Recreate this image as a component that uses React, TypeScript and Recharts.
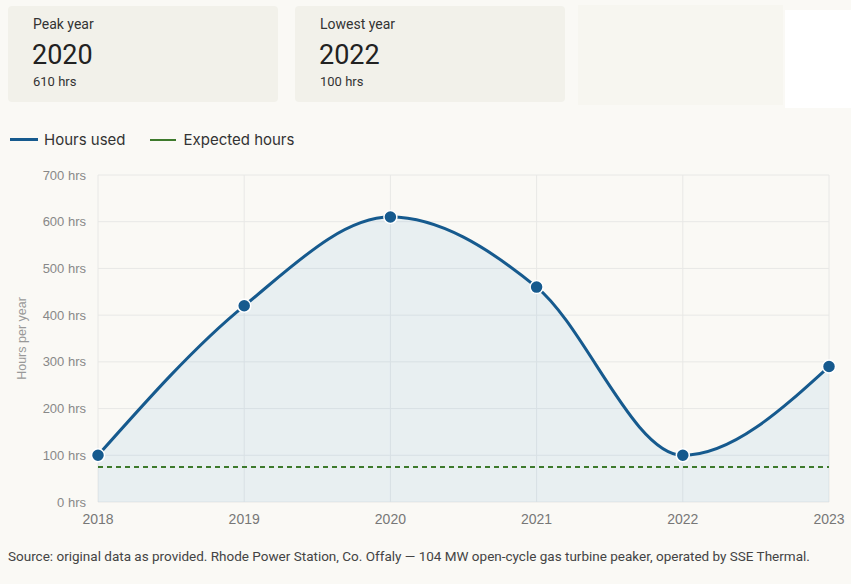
import { ComposedChart, XAxis, YAxis, CartesianGrid, Area, Line, ReferenceLine } from "recharts";

const years = ["2018", "2019", "2020", "2021", "2022", "2023"];
const hoursUsed = [100, 420, 610, 460, 100, 290];
const expectedHours = 75;
const yTicks = [0, 100, 200, 300, 400, 500, 600, 700];

const chartData = years.map((year, i) => ({ year, hours: hoursUsed[i] }));

const BLUE = "#165a8e";
const GREEN = "#3d7a2c";

function StatCard({ left, label, value, sub }: { left: number; label: string; value: string; sub: string }) {
  return (
    <div
      style={{
        position: "absolute",
        left,
        top: 6,
        width: 270,
        height: 96,
        background: "#f2f1ea",
        borderRadius: 4,
        fontFamily: "Roboto, sans-serif",
        color: "#222",
      }}
    >
      <div style={{ position: "absolute", left: 25, top: 10, fontSize: 14, color: "#333" }}>{label}</div>
      <div style={{ position: "absolute", left: 24, top: 33, fontSize: 27 }}>{value}</div>
      <div style={{ position: "absolute", left: 25, top: 68, fontSize: 13, color: "#333" }}>{sub}</div>
    </div>
  );
}

export default function App() {
  return (
    <div style={{ position: "absolute", left: 0, top: 0, width: 851, height: 584, background: "#faf9f5", overflow: "hidden" }}>
      <StatCard left={8} label="Peak year" value="2020" sub="610 hrs" />
      <StatCard left={295} label="Lowest year" value="2022" sub="100 hrs" />
      <div style={{ position: "absolute", left: 578, top: 5, width: 205, height: 100, background: "#f7f6f0" }} />
      <div style={{ position: "absolute", left: 785, top: 10, width: 66, height: 98, background: "#ffffff" }} />

      <div style={{ position: "absolute", left: 10, top: 130, display: "flex", alignItems: "center", fontFamily: "Inter, sans-serif", fontSize: 15, color: "#333" }}>
        <span style={{ display: "inline-block", width: 28, height: 3, background: BLUE, marginRight: 6 }} />
        <span>Hours used</span>
        <span style={{ display: "inline-block", width: 26, height: 2, background: GREEN, marginLeft: 24, marginRight: 8 }} />
        <span>Expected hours</span>
      </div>

      <div style={{ position: "absolute", left: 0, top: 0 }}>
        <ComposedChart width={851} height={540} data={chartData} margin={{ top: 175, right: 22, bottom: 8, left: 0 }}>
          <CartesianGrid stroke="#e8e8e6" />
          <XAxis
            dataKey="year"
            axisLine={false}
            tickLine={false}
            height={30}
            tick={{ fill: "#777", fontSize: 14, fontFamily: "Liberation Sans, Arial, sans-serif" }}
            dy={4}
          />
          <YAxis
            width={98}
            domain={[0, 700]}
            ticks={yTicks}
            axisLine={false}
            tickLine={false}
            tickFormatter={(v: number) => `${v} hrs`}
            tick={{ fill: "#888", fontSize: 13, fontFamily: "Liberation Sans, Arial, sans-serif" }}
            dx={-4}
            label={{
              value: "Hours per year",
              angle: -90,
              position: "insideLeft",
              offset: 22,
              style: { textAnchor: "middle", fill: "#999", fontSize: 12.5, fontFamily: "Liberation Sans, Arial, sans-serif" },
            }}
          />
          <Area
            type="monotone"
            dataKey="hours"
            stroke="none"
            fill="#3b8fd6"
            fillOpacity={0.09}
            isAnimationActive={false}
          />
          <ReferenceLine y={expectedHours} stroke={GREEN} strokeWidth={2} strokeDasharray="5 4" />
          <Line
            type="monotone"
            dataKey="hours"
            stroke={BLUE}
            strokeWidth={3}
            dot={{ r: 6.5, fill: BLUE, stroke: "#ffffff", strokeWidth: 1.5 }}
            isAnimationActive={false}
          />
        </ComposedChart>
      </div>

      <div style={{ position: "absolute", left: 8, top: 548, fontFamily: "Roboto, sans-serif", fontSize: 13.5, color: "#444", whiteSpace: "nowrap" }}>
        Source: original data as provided. Rhode Power Station, Co. Offaly — 104 MW open-cycle gas turbine peaker, operated by SSE Thermal.
      </div>
    </div>
  );
}
